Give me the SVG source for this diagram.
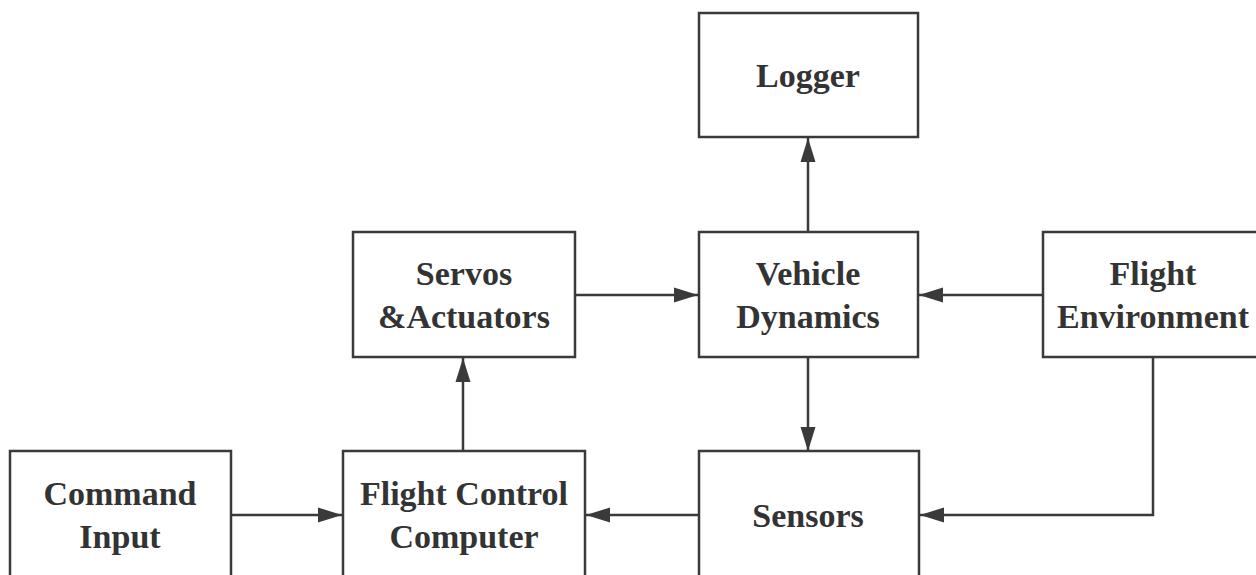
<svg xmlns="http://www.w3.org/2000/svg" width="1256" height="575" viewBox="0 0 1256 575">
<style>
.box{fill:#fff;stroke:#3a3a3a;stroke-width:2.5}
.t{font-family:"Liberation Serif","Times New Roman",serif;font-weight:bold;font-size:34px;fill:#333;text-anchor:middle}
.c{fill:none;stroke:#3a3a3a;stroke-width:2.5}
</style>
<defs>
<marker id="ah" markerUnits="userSpaceOnUse" markerWidth="26" markerHeight="18" refX="24" refY="8" orient="auto">
<path d="M0,0.5 L24,8 L0,15.5 Z" fill="#3a3a3a"/>
</marker>
</defs>
<rect width="1256" height="575" fill="#fff"/>
<g id="connectors">
<line class="c" x1="808" y1="232" x2="808" y2="138" marker-end="url(#ah)"/>
<line class="c" x1="575" y1="295" x2="698" y2="295" marker-end="url(#ah)"/>
<line class="c" x1="1043" y1="295" x2="919" y2="295" marker-end="url(#ah)"/>
<line class="c" x1="808" y1="357" x2="808" y2="451" marker-end="url(#ah)"/>
<line class="c" x1="463" y1="451" x2="463" y2="358" marker-end="url(#ah)"/>
<line class="c" x1="231" y1="515" x2="342" y2="515" marker-end="url(#ah)"/>
<line class="c" x1="699" y1="515" x2="586" y2="515" marker-end="url(#ah)"/>
<polyline class="c" points="1153,357 1153,515 920,515" marker-end="url(#ah)"/>
</g>
<g id="logger"><rect class="box" x="699" y="13" width="219" height="124"/><text class="t" x="808" y="87">Logger</text></g>
<g id="servos"><rect class="box" x="353" y="232" width="222" height="125"/><text class="t" x="464" y="285">Servos</text><text class="t" x="464" y="328">&amp;Actuators</text></g>
<g id="vehicle"><rect class="box" x="699" y="232" width="219" height="125"/><text class="t" x="808" y="285">Vehicle</text><text class="t" x="808" y="328">Dynamics</text></g>
<g id="environment"><rect class="box" x="1043" y="232" width="222" height="125"/><text class="t" x="1153" y="285">Flight</text><text class="t" x="1153" y="328">Environment</text></g>
<g id="command"><rect class="box" x="10" y="451" width="221" height="135"/><text class="t" x="120" y="505">Command</text><text class="t" x="120" y="548">Input</text></g>
<g id="fcc"><rect class="box" x="343" y="451" width="242" height="135"/><text class="t" x="464" y="505">Flight Control</text><text class="t" x="464" y="548">Computer</text></g>
<g id="sensors"><rect class="box" x="699" y="451" width="220" height="135"/><text class="t" x="808" y="527">Sensors</text></g>
</svg>
